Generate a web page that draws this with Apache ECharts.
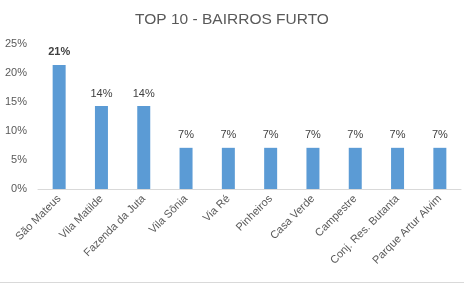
<!DOCTYPE html>
<html>
<head>
<meta charset="utf-8">
<script src="https://cdn.jsdelivr.net/npm/echarts@6/dist/echarts.min.js"></script>
<style>html,body{margin:0;padding:0;background:#fff;}#c{width:464px;height:291px;}</style>
</head>
<body>
<div id="c"></div>
<script>
var categories = ['São Mateus', 'Vila Matilde', 'Fazenda da Juta', 'Vila Sônia', 'Via Ré', 'Pinheiros', 'Casa Verde', 'Campestre', 'Conj. Res. Butanta', 'Parque Artur Alvim'];
var values = [21.4, 14.3, 14.3, 7.1, 7.1, 7.1, 7.1, 7.1, 7.1, 7.1];
var yTicks = [0, 5, 10, 15, 20, 25];

var font = 'Liberation Sans, Arial, sans-serif';
var chart = echarts.init(document.getElementById('c'), null, {renderer: 'canvas'});
chart.setOption({
  animation: false,
  backgroundColor: '#fff',
  title: {
    text: 'TOP 10 - BAIRROS FURTO',
    left: 'center',
    top: 7,
    textStyle: {color: '#595959', fontSize: 15.5, fontWeight: 'normal', fontFamily: font}
  },
  grid: {left: 38, right: 3, top: 44, bottom: 102, containLabel: false},
  xAxis: {
    type: 'category',
    data: categories,
    axisLine: {lineStyle: {color: '#d9d9d9'}},
    axisTick: {show: false},
    axisLabel: {rotate: 45, interval: 0, margin: 8, color: '#595959', fontSize: 11, fontFamily: font}
  },
  yAxis: {
    type: 'value',
    min: yTicks[0],
    max: yTicks[yTicks.length - 1],
    interval: 5,
    splitLine: {show: false},
    axisLine: {show: false},
    axisTick: {show: false},
    axisLabel: {formatter: '{value}%', margin: 11, color: '#595959', fontSize: 11, fontFamily: font}
  },
  series: [{
    type: 'bar',
    data: values.map(function (v, i) {
      return {value: v, label: {fontWeight: i === 0 ? 'bold' : 'normal'}};
    }),
    barWidth: 13,
    itemStyle: {color: '#5b9bd5'},
    label: {
      show: true,
      position: 'top',
      distance: 7,
      color: '#404040',
      fontSize: 11,
      fontFamily: font,
      formatter: function (p) { return Math.round(p.value) + '%'; }
    }
  }],
  graphic: [{
    type: 'line',
    shape: {x1: 0, y1: 282.5, x2: 464, y2: 282.5},
    style: {stroke: '#d9d9d9', lineWidth: 1}
  }]
});
</script>
</body>
</html>
